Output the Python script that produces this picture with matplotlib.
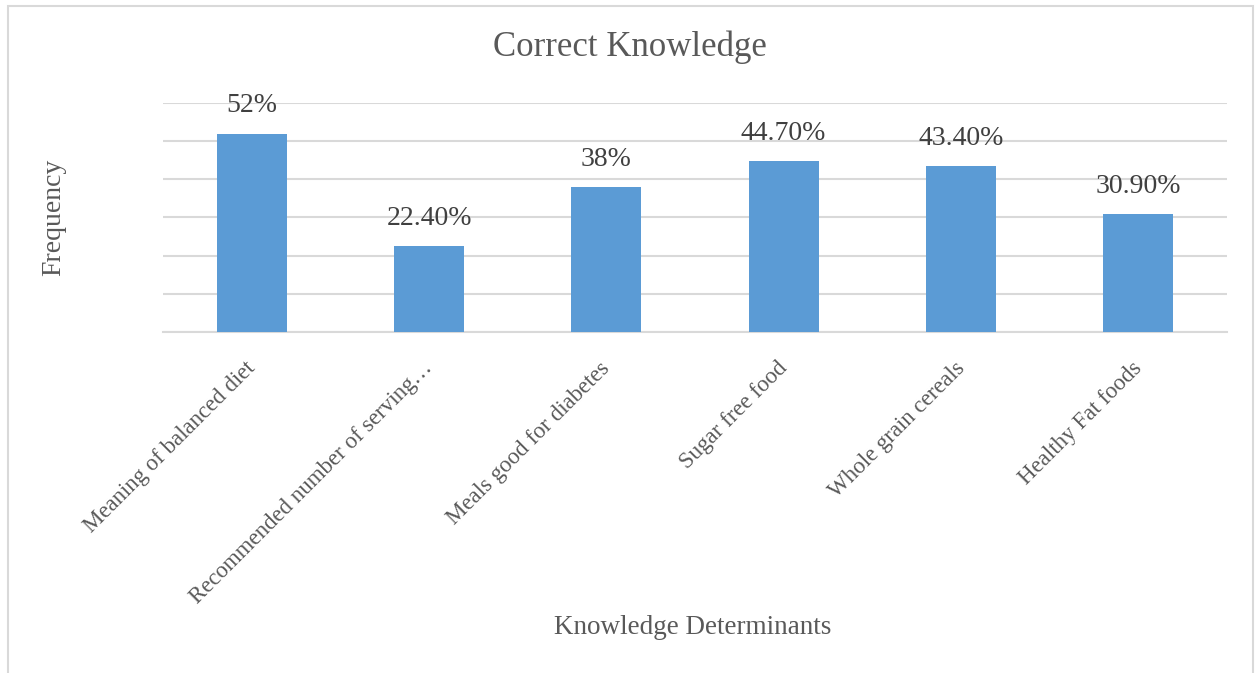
import matplotlib
matplotlib.use("Agg")
import matplotlib.pyplot as plt
import matplotlib.transforms as mtransforms
from matplotlib.patches import Rectangle
import numpy as np

categories = ["Meaning of balanced diet", "Recommended number of serving…",
              "Meals good for diabetes", "Sugar free food",
              "Whole grain cereals", "Healthy Fat foods"]
values = [52.0, 22.4, 38.0, 44.7, 43.4, 30.9]
value_labels = ["52%", "22.40%", "38%", "44.70%", "43.40%", "30.90%"]

plt.rcParams['font.family'] = ['Liberation Serif', 'DejaVu Serif']
text_color = '#595959'
bar_color = '#5B9BD5'
grid_color = '#D9D9D9'

fig = plt.figure(figsize=(12.55, 6.73), dpi=100)
ax = fig.add_axes([0.1299, 0.5067, 0.8478, 0.3403])

x = np.arange(len(categories))
bars = ax.bar(x, values, width=0.395, color=bar_color, zorder=3)

# value labels above each bar
for rect, lab in zip(bars, value_labels):
    ax.annotate(lab, (rect.get_x() + rect.get_width() / 2, rect.get_height()),
                xytext=(0, 11), textcoords='offset points',
                ha='center', va='bottom', fontsize=20, color='#404040')

ax.set_xlim(-0.5, len(categories) - 0.5)
ax.set_ylim(0, 60)
ax.set_yticks(np.arange(0, 61, 10))
ax.yaxis.grid(True, color=grid_color, linewidth=1.5, zorder=0)
ax.tick_params(axis='y', left=False, labelleft=False)
ax.tick_params(axis='x', bottom=False, pad=15)
for s in ['top', 'right', 'left']:
    ax.spines[s].set_visible(False)
ax.spines['bottom'].set_color(grid_color)
ax.spines['bottom'].set_linewidth(1.5)

ax.set_xticks(x)
ax.set_xticklabels(categories, rotation=45, ha='right', fontsize=16.5,
                   color=text_color)
# nudge the slanted labels a little to the right
shift = mtransforms.ScaledTranslation(8 / 100, 0, fig.dpi_scale_trans)
for lbl in ax.get_xticklabels():
    lbl.set_transform(lbl.get_transform() + shift)

fig.text(0.502, 0.930, "Correct Knowledge", ha='center', va='center',
         fontsize=25, color=text_color)
fig.text(0.552, 0.067, "Knowledge Determinants", ha='center', va='center',
         fontsize=19.5, color=text_color)
fig.text(0.043, 0.677, "Frequency", ha='center', va='center', rotation=90,
         fontsize=20, color=text_color)

# light frame around the chart area
fig.patches.append(Rectangle((8 / 1255, -0.1), 1245 / 1255, 1.1 - 6 / 673,
                             transform=fig.transFigure, fill=False,
                             edgecolor=grid_color, linewidth=1.5))

fig.savefig("out.png", dpi=100, facecolor='white')
